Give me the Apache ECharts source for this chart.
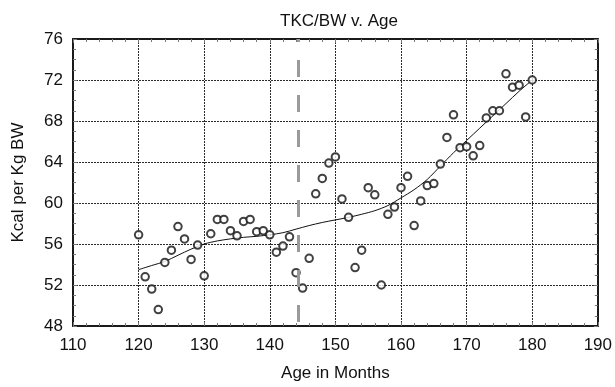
<!DOCTYPE html>
<html>
<head>
<meta charset="utf-8">
<script src="https://cdn.jsdelivr.net/npm/echarts@6/dist/echarts.min.js"></script>
<style>
  html, body { margin: 0; padding: 0; background: #fff; }
  #chart { width: 615px; height: 387px; }
</style>
</head>
<body>
<div id="chart"></div>
<script>
// Age of each subject, in months
var ages = [120, 121, 122, 123, 124, 125, 126, 127, 128, 129,
            130, 131, 132, 133, 134, 135, 136, 137, 138, 139,
            140, 141, 142, 143, 144, 145, 146, 147, 148, 149,
            150, 151, 152, 153, 154, 155, 156, 157, 158, 159,
            160, 161, 162, 163, 164, 165, 166, 167, 168, 169,
            170, 171, 172, 173, 174, 175, 176, 177, 178, 179, 180];
// Total kcal per kg body weight for each age
var kcalPerKg = [56.9, 52.8, 51.6, 49.6, 54.2, 55.4, 57.7, 56.5, 54.5, 55.9,
                 52.9, 57.0, 58.4, 58.4, 57.3, 56.8, 58.2, 58.4, 57.2, 57.3,
                 56.9, 55.2, 55.8, 56.7, 53.2, 51.7, 54.6, 60.9, 62.4, 63.9,
                 64.5, 60.4, 58.6, 53.7, 55.4, 61.5, 60.8, 52.0, 58.9, 59.6,
                 61.5, 62.6, 57.8, 60.2, 61.7, 61.9, 63.8, 66.4, 68.6, 65.4,
                 65.5, 64.6, 65.6, 68.3, 69.0, 69.0, 72.6, 71.3, 71.5, 68.4, 72.0];
// Smoothed trend through the scatter
var trendAges = [120, 122, 124, 126, 128, 130, 132, 134, 136, 138,
                 140, 142, 144, 146, 148, 150, 152, 154, 156, 158,
                 160, 162, 164, 166, 168, 170, 172, 174, 176, 178, 180];
var trendValues = [53.5, 53.9, 54.3, 54.9, 55.5, 56.0, 56.3, 56.5, 56.65, 56.75,
                   56.9, 57.1, 57.45, 57.8, 58.1, 58.35, 58.6, 58.9, 59.25, 59.75,
                   60.5, 61.3, 62.3, 63.6, 64.9, 66.1, 67.3, 68.5, 69.7, 70.9, 72.0];
// Age marked by the dashed reference line
var cutoffAge = 144.3;
// Axis ranges
var xTicks = { min: 110, max: 190, interval: 10 };
var yTicks = { min: 48, max: 76, interval: 4 };

var FONT = 'Liberation Sans, Arial, sans-serif';

function zip(a, b) {
  return a.map(function (v, i) { return [v, b[i]]; });
}

var frameAxis = { show: true, onZero: false, lineStyle: { color: '#1a1a1a', width: 2 } };
var innerTick = { show: true, inside: true, length: 4, lineStyle: { color: '#777', width: 1 } };
var gridLine = { show: true, lineStyle: { color: '#2a2a2a', width: 1, type: [2, 1] } };

var chart = echarts.init(document.getElementById('chart'), null, { renderer: 'canvas' });
chart.setOption({
  animation: false,
  backgroundColor: '#fff',
  title: {
    text: 'TKC/BW v. Age',
    left: 334,
    top: 8,
    textAlign: 'center',
    textStyle: { fontFamily: FONT, fontSize: 17, fontWeight: 'normal', color: '#111' }
  },
  grid: { left: 73, right: 15, top: 39, bottom: 57, containLabel: false },
  xAxis: [{
    type: 'value',
    min: xTicks.min, max: xTicks.max, interval: xTicks.interval,
    position: 'bottom',
    name: 'Age in Months',
    nameLocation: 'middle',
    nameGap: 39,
    nameTextStyle: { fontFamily: FONT, fontSize: 17, color: '#111' },
    axisLine: frameAxis,
    axisTick: innerTick,
    minorTick: { show: true, splitNumber: 5, length: 3, lineStyle: { color: '#777' } },
    axisLabel: { fontFamily: FONT, fontSize: 17, color: '#111', margin: 11 },
    splitLine: gridLine
  }, {
    type: 'value',
    min: xTicks.min, max: xTicks.max, interval: xTicks.interval,
    position: 'top',
    axisLine: frameAxis,
    axisTick: innerTick,
    minorTick: { show: true, splitNumber: 5, length: 3, lineStyle: { color: '#777' } },
    axisLabel: { show: false },
    splitLine: { show: false }
  }],
  yAxis: [{
    type: 'value',
    min: yTicks.min, max: yTicks.max, interval: yTicks.interval,
    position: 'left',
    name: 'Kcal per Kg BW',
    nameLocation: 'middle',
    nameGap: 46,
    nameTextStyle: { fontFamily: FONT, fontSize: 17, color: '#111' },
    axisLine: frameAxis,
    axisTick: innerTick,
    minorTick: { show: true, splitNumber: 4, length: 3, lineStyle: { color: '#777' } },
    axisLabel: { fontFamily: FONT, fontSize: 17, color: '#111', margin: 10 },
    splitLine: gridLine
  }, {
    type: 'value',
    min: yTicks.min, max: yTicks.max, interval: yTicks.interval,
    position: 'right',
    axisLine: frameAxis,
    axisTick: innerTick,
    minorTick: { show: true, splitNumber: 4, length: 3, lineStyle: { color: '#777' } },
    axisLabel: { show: false },
    splitLine: { show: false }
  }],
  series: [{
    name: 'trend',
    type: 'line',
    data: zip(trendAges, trendValues),
    smooth: 0.3,
    showSymbol: false,
    symbol: 'none',
    lineStyle: { color: '#111', width: 1 },
    z: 3,
    markLine: {
      silent: true,
      symbol: 'none',
      label: { show: false },
      lineStyle: { color: '#9a9a9a', width: 3, type: [17, 18], dashOffset: 31 },
      data: [{ xAxis: cutoffAge }]
    }
  }, {
    name: 'kcal',
    type: 'scatter',
    data: zip(ages, kcalPerKg),
    symbol: 'circle',
    symbolSize: 7.5,
    itemStyle: { color: '#fff', borderColor: '#111', borderWidth: 2 },
    z: 4
  }]
});
</script>
</body>
</html>
